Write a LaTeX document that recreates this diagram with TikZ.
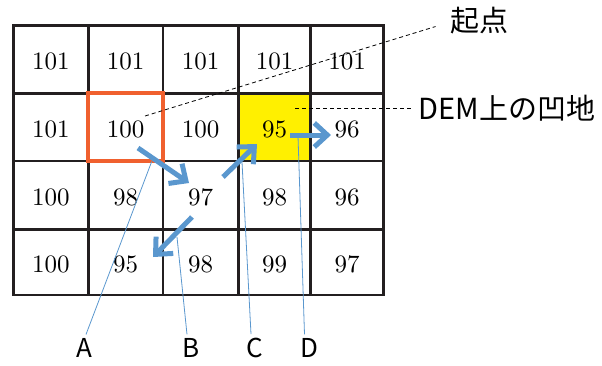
\documentclass[tikz,border=0pt]{standalone}
\usepackage{fontspec}
\newfontfamily\jpfont{Noto Sans CJK JP}
\newfontfamily\numfont{lmroman10-regular.otf}
\usetikzlibrary{arrows.meta}
\definecolor{flow}{HTML}{5A97CE}
\definecolor{origin}{HTML}{F0602E}
\definecolor{sink}{HTML}{FFF000}
\definecolor{gridline}{HTML}{231F20}

\begin{document}
\begin{tikzpicture}[x=1pt,y=-1pt,
    cellnum/.style={font=\numfont\fontsize{25}{28}\selectfont},
    tag/.style={font=\jpfont\fontsize{29}{32}\selectfont},
    letter/.style={font=\jpfont\fontsize{26}{30}\selectfont},
    flowarrow/.style={flow,line width=5pt,-{Straight Barb[length=13pt,width=24pt]}},
    leader/.style={flow,line width=0.8pt},
    pointer/.style={dash pattern=on 4pt off 3pt,line width=0.8pt}]
  \useasboundingbox (0,0) rectangle (602,365);
  % sink cell on the DEM
  \fill[sink] (238.3,93.3) rectangle (310.7,161);
  % grid lines
  \foreach \x in {88.3,163,238.3,310.7}
    \draw[gridline,line width=2.6pt] (\x,25.3) -- (\x,295);
  \foreach \y in {93.3,161,229.3}
    \draw[gridline,line width=2.6pt] (13.5,\y) -- (383.5,\y);
  \draw[gridline,line width=2.6pt] (13.5,25.3) rectangle (383.5,295);
  % elevation values
  \def\colx{{50.9,125.7,200.7,274.5,347.1}}
  \foreach \r/\y/\row in {0/61/{101,101,101,101,101},1/129/{101,100,100,95,96},
                          2/197/{100,98,97,98,96},3/264/{100,95,98,99,97}} {
    \foreach \v [count=\c from 0] in \row {
      \pgfmathsetmacro\x{\colx[\c]}
      \node[cellnum] (n\r\c) at (\x,\y) {\v};
    }
  }
  % start cell
  \draw[origin,line width=4pt] (88.3,93.3) rectangle (163,161);
  % flow path
  \coordinate (f1s) at (138,148);  \coordinate (f1e) at (189,183);
  \coordinate (f2s) at (223,177);  \coordinate (f2e) at (257,144);
  \coordinate (f3s) at (192,217);  \coordinate (f3e) at (153,257);
  \coordinate (f4s) at (290,135);  \coordinate (f4e) at (331,135);
  \draw[flowarrow] (f1s) -- (f1e);
  \draw[flowarrow] (f2s) -- (f2e);
  \draw[flowarrow] (f3s) -- (f3e);
  \draw[flowarrow] (f4s) -- (f4e);
  % labels below the grid
  \node[letter] (lblA) at (84.5,347.5) {A};
  \node[letter] (lblB) at (191,347.5) {B};
  \node[letter] (lblC) at (255,347.5) {C};
  \node[letter] (lblD) at (309.5,347.5) {D};
  \coordinate (tipA) at (151.7,161.5);
  \coordinate (tipB) at (177,237);
  \coordinate (tipC) at (242,162);
  \coordinate (tipD) at (298,136);
  \draw[leader] (tipA) -- ([xshift=1.5pt]lblA.north);
  \draw[leader] (tipB) -- ([xshift=-4pt]lblB.north);
  \draw[leader] (tipC) -- ([xshift=-4pt]lblC.north);
  \draw[leader] (tipD) -- ([xshift=-5pt]lblD.north);
  % callouts
  \node[tag,anchor=west] (lblstart) at (447,21) {起点};
  \node[tag,anchor=west] (lbldem) at (415,108) {DEM上の凹地};
  \coordinate (ptstart) at (145,116);
  \coordinate (ptdem) at (295,108);
  \draw[pointer,shorten >=12pt] (ptstart) -- ([yshift=-2pt]lblstart.west);
  \draw[pointer,shorten >=2pt] (ptdem) -- (lbldem.west);
\end{tikzpicture}
\end{document}
